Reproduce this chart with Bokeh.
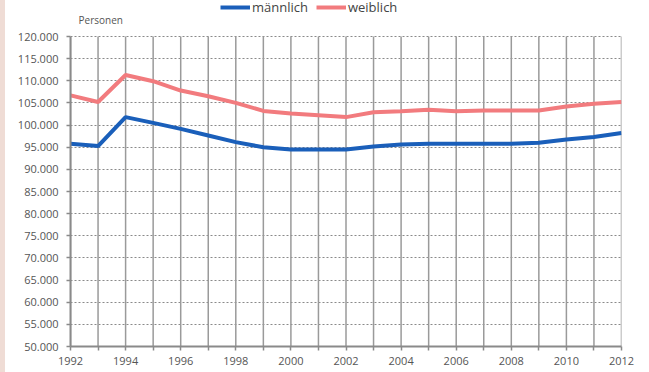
from bokeh.plotting import figure
from bokeh.models import (FixedTicker, Legend, LegendItem, Label, Range1d, Div)
from bokeh.layouts import row
from bokeh.embed import file_html
from bokeh.resources import INLINE

# Bevölkerung nach Geschlecht, 1992-2012
years = list(range(1992, 2013))
maennlich = [95800, 95250, 101800, 100500, 99150, 97650, 96150, 95000, 94500, 94500,
             94500, 95150, 95600, 95800, 95800, 95800, 95800, 96000, 96750, 97300, 98200]
weiblich = [106700, 105200, 111300, 109900, 107800, 106500, 105000, 103200, 102600, 102200,
            101800, 102900, 103100, 103450, 103100, 103300, 103300, 103300, 104200, 104800, 105200]
y_ticks = list(range(50000, 120001, 5000))
x_labels = {y: (str(y) if y % 2 == 0 else "") for y in years}

FONT = "Open Sans"
BLUE, PINK = "#1a5fba", "#f27b7e"
STRIP = 5
W, H = 649 - STRIP, 372
L, R, B = 70 - STRIP, 28, 26
HEAD = 36                      # room above the top grid line for legend and unit
FRAME_H = H - B
LEG_H = 16
Y_MIN, Y_MAX = min(y_ticks), max(y_ticks)
y_top = Y_MAX + HEAD * (Y_MAX - Y_MIN) / (FRAME_H - HEAD)

p = figure(width=W, height=H, output_backend="svg", toolbar_location=None,
           x_range=Range1d(years[0], years[-1]), y_range=Range1d(Y_MIN, y_top),
           min_border_left=L, min_border_right=R, min_border_top=0, min_border_bottom=B)
p.outline_line_color = None
p.background_fill_color = "white"
p.border_fill_color = "white"

# vertical grid lines, one per year, limited to the value range
p.segment(x0=years, y0=[Y_MIN] * len(years), x1=years, y1=[Y_MAX] * len(years),
          line_color="#9a9a9a", line_width=1.5)
p.xgrid.visible = False

r_m = p.line(years, maennlich, line_color=BLUE, line_width=4)
r_w = p.line(years, weiblich, line_color=PINK, line_width=4)

p.xaxis.ticker = FixedTicker(ticks=years)
p.xaxis.major_label_overrides = x_labels
p.yaxis.ticker = FixedTicker(ticks=y_ticks)
p.yaxis.major_label_overrides = {v: f"{v // 1000}.000" for v in y_ticks}
p.yaxis.bounds = (Y_MIN, Y_MAX)
for ax in (p.xaxis[0], p.yaxis[0]):
    ax.axis_line_color = "#8a8a8a"
    ax.axis_line_width = 2
    ax.major_tick_line_color = "#8a8a8a"
    ax.major_tick_line_width = 1.5
    ax.major_tick_out = 4
    ax.major_tick_in = 0
    ax.minor_tick_line_color = None
    ax.major_label_text_font = FONT
    ax.major_label_text_font_size = "11px"
    ax.major_label_text_color = "#555555"
p.xaxis.major_label_standoff = 6
p.yaxis.major_label_standoff = 8

p.ygrid.grid_line_color = "#8a8a8a"
p.ygrid.grid_line_width = 1
p.ygrid.grid_line_dash = "2 2"

# unit label
p.add_layout(Label(x=8, y=FRAME_H - 19, x_units="screen", y_units="screen",
                   text="Personen", text_font=FONT, text_font_size="10px",
                   text_color="#555555", text_baseline="middle"))

# legend along the top edge
legend = Legend(items=[LegendItem(label="männlich", renderers=[r_m]),
                       LegendItem(label="weiblich", renderers=[r_w])],
                orientation="horizontal", location=(150, FRAME_H - LEG_H),
                padding=0, margin=0, spacing=8, glyph_width=30, glyph_height=LEG_H,
                label_standoff=2, label_height=LEG_H,
                label_text_font=FONT, label_text_font_size="13px",
                label_text_color="#444444",
                border_line_color=None, background_fill_alpha=0)
p.add_layout(legend, "center")

# pink strip along the left edge of the page
strip = Div(text="", width=STRIP, height=H, margin=0,
            styles={"background-color": "#efdcd5"})

layout = row(strip, p, spacing=0)
open("out.html", "w").write(file_html(layout, INLINE))
